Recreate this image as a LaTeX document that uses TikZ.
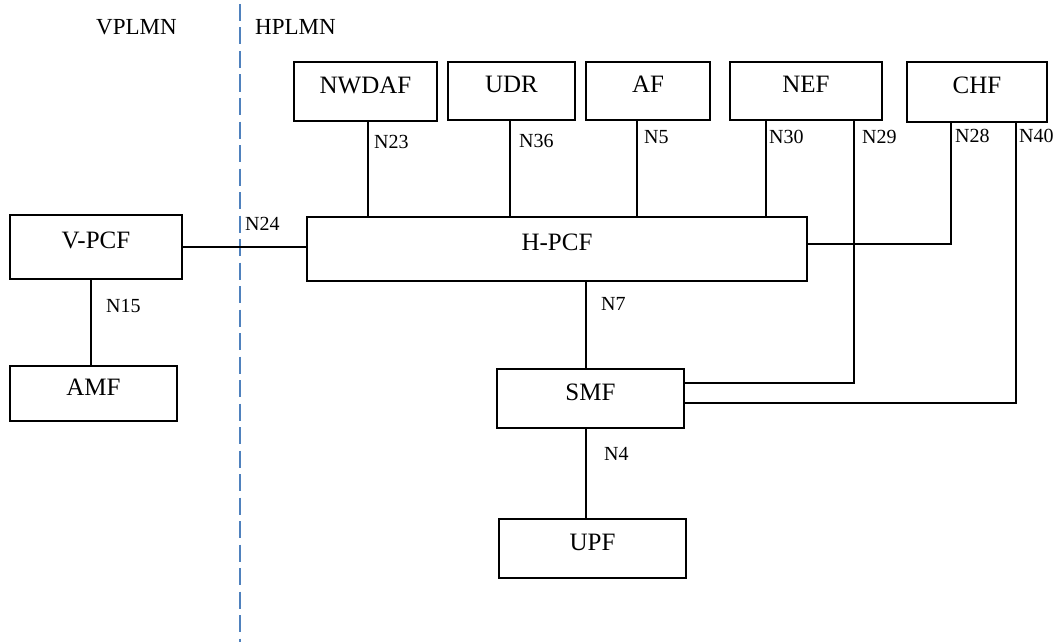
\documentclass[tikz,border=0pt]{standalone}
\usepackage{fontspec}
\setmainfont{Liberation Serif}
\definecolor{plmnblue}{RGB}{79,129,189}
\begin{document}
\begin{tikzpicture}[
    x=1pt, y=-1pt,
    nf/.style={draw, line width=1.2pt, inner sep=0pt, font=\fontsize{25}{30}\selectfont,
      text height=18pt, text depth=15pt},
    lbl/.style={anchor=base west, inner sep=0pt, font=\fontsize{20}{24}\selectfont},
    plmn/.style={anchor=base west, inner sep=0pt, font=\fontsize{23}{28}\selectfont},
    ref/.style={line width=1.2pt}
  ]
  \useasboundingbox (0,0) rectangle (1055,642);

  % PLMN border
  \coordinate (btop) at (240,4);
  \coordinate (bbot) at (240,642);
  \draw[plmnblue, line width=2pt, dash pattern=on 17pt off 6.5pt] (btop) -- (bbot);
  \node[plmn] (vplmn) at (96,35) {VPLMN};
  \node[plmn] (hplmn) at (255,35) {HPLMN};

  % network functions
  \node[nf, minimum width=172, minimum height=64] (vpcf) at (96,247) {V-PCF};
  \node[nf, minimum width=167, minimum height=55] (amf) at (93.5,393.5) {AMF};
  \node[nf, minimum width=143, minimum height=59] (nwdaf) at (365.5,91.5) {NWDAF};
  \node[nf, minimum width=127, minimum height=58] (udr) at (511.5,91) {UDR};
  \node[nf, minimum width=124, minimum height=58] (af) at (648,91) {AF};
  \node[nf, minimum width=152, minimum height=58] (nef) at (806,91) {NEF};
  \node[nf, minimum width=140, minimum height=60] (chf) at (977,92) {CHF};
  \node[nf, minimum width=500, minimum height=64] (hpcf) at (557,249) {H-PCF};
  \node[nf, minimum width=187, minimum height=59] (smf) at (590.5,398.5) {SMF};
  \node[nf, minimum width=187, minimum height=59] (upf) at (592.5,548.5) {UPF};

  % reference points
  \draw[ref] (vpcf.east) -- (vpcf.east -| hpcf.west);
  \draw[ref] ([xshift=-5pt]vpcf.south) coordinate (p15) -- (p15 |- amf.north);
  \draw[ref] ([xshift=2.5pt]nwdaf.south) coordinate (p23) -- (p23 |- hpcf.north);
  \draw[ref] ([xshift=-1.5pt]udr.south) coordinate (p36) -- (p36 |- hpcf.north);
  \draw[ref] ([xshift=-11pt]af.south) coordinate (p5) -- (p5 |- hpcf.north);
  \draw[ref] ([xshift=-40pt]nef.south) coordinate (p30) -- (p30 |- hpcf.north);
  \draw[ref] ([xshift=48pt]nef.south) coordinate (p29) |- ([yshift=15.5pt]smf.east);
  \draw[ref] ([xshift=-26pt]chf.south) coordinate (p28) |- ([yshift=5pt]hpcf.east);
  \draw[ref] ([xshift=39pt]chf.south) coordinate (p40) |- ([yshift=-4.5pt]smf.east);
  \draw[ref] ([xshift=-4.5pt]hpcf.south -| smf.north) coordinate (p7) -- ([xshift=-4.5pt]smf.north);
  \draw[ref] ([xshift=-4.5pt]smf.south) coordinate (p4) -- (p4 |- upf.north);

  % labels
  \node[lbl] (n24) at (245,230) {N24};
  \node[lbl] (n15) at (106,312) {N15};
  \node[lbl] (n23) at (374,148) {N23};
  \node[lbl] (n36) at (519,147) {N36};
  \node[lbl] (n5) at (644,143) {N5};
  \node[lbl] (n30) at (769,143) {N30};
  \node[lbl] (n29) at (862,143) {N29};
  \node[lbl] (n28) at (955,142) {N28};
  \node[lbl] (n40) at (1019,142) {N40};
  \node[lbl] (n7) at (601,310) {N7};
  \node[lbl] (n4) at (604,460) {N4};
\end{tikzpicture}
\end{document}
